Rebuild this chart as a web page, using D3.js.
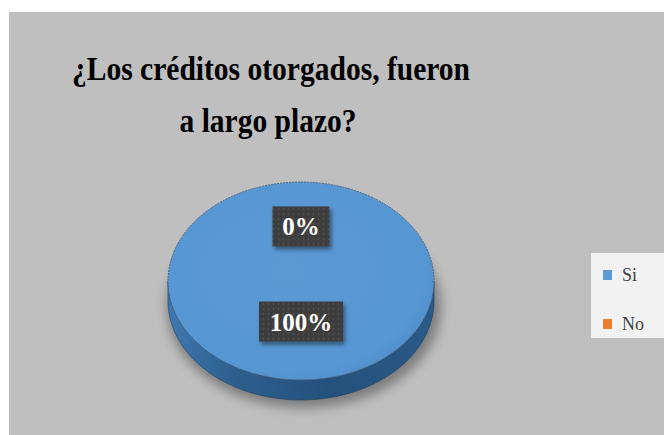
<!DOCTYPE html>
<html lang="es">
<head>
    <meta charset="UTF-8">
    <title>Créditos a largo plazo</title>
    <script src="https://cdn.jsdelivr.net/npm/d3@7/dist/d3.min.js"></script>
    <style>
        body { margin: 0; background: #fff; }
    </style>
</head>
<body>
    <svg width=664 height=435></svg>
    <script>
        var categories = ['Si', 'No'],
            values = [100, 0],
            colors = ['#5b9bd5', '#ed7d31'],
            sideColors = ['#2f5f8c', '#a85520'],
            titleLines = ['¿Los créditos otorgados, fueron', 'a largo plazo?'];

        var serif = '"Times New Roman", "Liberation Serif", Tinos, Times, serif';

        var svg = d3.select('svg'),
            cx = 301, cy = 281,
            rx = 133, ry = 99,
            depth = 20;

        var defs = svg.append('defs');

        var blur = defs.append('filter').attr('id', 'shadow')
            .attr('x', '-20%').attr('y', '-20%').attr('width', '140%').attr('height', '150%');
        blur.append('feGaussianBlur').attr('stdDeviation', 6);

        var boxShadow = defs.append('filter').attr('id', 'boxShadow')
            .attr('x', '-20%').attr('y', '-30%').attr('width', '150%').attr('height', '170%');
        boxShadow.append('feDropShadow').attr('dx', 2).attr('dy', 3)
            .attr('stdDeviation', 2).attr('flood-color', '#000').attr('flood-opacity', 0.45);

        var dots = defs.append('pattern').attr('id', 'dots')
            .attr('width', 5).attr('height', 5).attr('patternUnits', 'userSpaceOnUse');
        dots.append('rect').attr('width', 5).attr('height', 5).attr('fill', '#3d3d3d');
        dots.append('circle').attr('cx', 2.5).attr('cy', 2.5).attr('r', 0.9).attr('fill', '#555');

        var topGrad = defs.append('radialGradient').attr('id', 'topGrad')
            .attr('cx', '45%').attr('cy', '45%').attr('r', '60%');
        topGrad.append('stop').attr('offset', '0%').attr('stop-color', '#5c9ad6');
        topGrad.append('stop').attr('offset', '85%').attr('stop-color', '#5696d3');
        topGrad.append('stop').attr('offset', '100%').attr('stop-color', '#4f8ecb');

        var sideGrad = defs.append('linearGradient').attr('id', 'sideGrad')
            .attr('x1', 0).attr('x2', 1).attr('y1', 0).attr('y2', 0);
        sideGrad.append('stop').attr('offset', '0%').attr('stop-color', '#3f78b0');
        sideGrad.append('stop').attr('offset', '25%').attr('stop-color', '#2d5f8e');
        sideGrad.append('stop').attr('offset', '60%').attr('stop-color', '#24517c');
        sideGrad.append('stop').attr('offset', '100%').attr('stop-color', '#2a5a88');

        // chart area
        svg.append('rect')
            .attr('x', 9).attr('y', 12)
            .attr('width', 664 - 9).attr('height', 435 - 12)
            .attr('fill', '#bfbfbf');

        // title
        var title = svg.append('text')
            .attr('text-anchor', 'middle')
            .style('font-family', serif)
            .attr('font-weight', 'bold')
            .attr('fill', '#000');
        title.append('tspan')
            .attr('x', 271).attr('y', 80)
            .attr('font-size', 34)
            .attr('textLength', 398).attr('lengthAdjust', 'spacingAndGlyphs')
            .text(titleLines[0]);
        title.append('tspan')
            .attr('x', 268).attr('y', 132)
            .attr('font-size', 34)
            .attr('textLength', 177).attr('lengthAdjust', 'spacingAndGlyphs')
            .text(titleLines[1]);

        var pie = d3.pie().sort(null)(values);

        // shadow under the pie
        svg.append('ellipse')
            .attr('cx', cx + 3).attr('cy', cy + depth + 6)
            .attr('rx', rx + 4).attr('ry', ry + 2)
            .attr('fill', '#000').attr('opacity', 0.35)
            .attr('filter', 'url(#shadow)');

        // side of the disc, only the front half shows
        function sidePath(a0, a1) {
            var s = Math.max(a0, Math.PI / 2),
                e = Math.min(a1, Math.PI * 1.5);
            if (e <= s) return null;
            var n = 60, top = [], bottom = [];
            for (var i = 0; i <= n; i++) {
                var a = s + (e - s) * i / n,
                    x = cx + rx * Math.sin(a),
                    y = cy - ry * Math.cos(a);
                top.push([x, y]);
                bottom.push([x, y + depth]);
            }
            return d3.line()(top.concat(bottom.reverse())) + 'Z';
        }

        svg.append('g').selectAll('path')
            .data(pie)
            .join('path')
            .attr('d', function(d) { return sidePath(d.startAngle, d.endAngle); })
            .attr('fill', function(d, i) { return i === 0 ? 'url(#sideGrad)' : sideColors[i]; })
            .attr('stroke', '#1d3f60').attr('stroke-width', 0.6);

        var arc = d3.arc().innerRadius(0).outerRadius(rx);

        var topG = svg.append('g')
            .attr('transform', 'translate(' + [cx, cy] + ') scale(1,' + (ry / rx) + ')');

        topG.selectAll('path')
            .data(pie.filter(function(d) { return d.value > 0; }))
            .join('path')
            .attr('d', arc)
            .attr('fill', function(d) { return d.index === 0 ? 'url(#topGrad)' : colors[d.index]; });

        // rim of the top face
        topG.append('circle')
            .attr('r', rx)
            .attr('fill', 'none')
            .attr('stroke', '#4d6480')
            .attr('stroke-width', 1)
            .attr('stroke-dasharray', '2,1')
            .attr('vector-effect', 'non-scaling-stroke');

        // data labels
        var labelArc = d3.arc().innerRadius(rx * 0.48).outerRadius(rx * 0.48),
            total = d3.sum(values);

        var labels = svg.append('g').selectAll('g')
            .data(pie)
            .join('g')
            .attr('transform', function(d) {
                var c = labelArc.centroid(d);
                return 'translate(' + [cx + c[0], cy + c[1] * ry / rx - 7] + ')';
            });

        labels.each(function(d) {
            var g = d3.select(this),
                txt = Math.round(d.value / total * 100) + '%',
                w = txt.length * 13.5 + 30;
            g.append('rect')
                .attr('x', -w / 2).attr('y', -20)
                .attr('width', w).attr('height', 40)
                .attr('fill', 'url(#dots)')
                .attr('filter', 'url(#boxShadow)');
            g.append('text')
                .attr('text-anchor', 'middle')
                .attr('y', 9)
                .style('font-family', serif)
                .attr('font-size', 25)
                .attr('font-weight', 'bold')
                .attr('fill', '#fff')
                .text(txt);
        });

        // legend
        var legend = svg.append('g');
        legend.append('rect')
            .attr('x', 591).attr('y', 253)
            .attr('width', 73).attr('height', 85)
            .attr('fill', '#f2f2f2');

        var items = legend.selectAll('g.item')
            .data(categories)
            .join('g')
            .attr('class', 'item')
            .attr('transform', function(d, i) { return 'translate(' + [603, 270 + i * 49] + ')'; });

        items.append('rect')
            .attr('width', 9).attr('height', 10)
            .attr('fill', function(d, i) { return colors[i]; });

        items.append('text')
            .attr('x', 19).attr('y', 11)
            .style('font-family', serif)
            .attr('font-size', 18)
            .attr('fill', '#404040')
            .text(function(d) { return d; });
    </script>
</body>
</html>
